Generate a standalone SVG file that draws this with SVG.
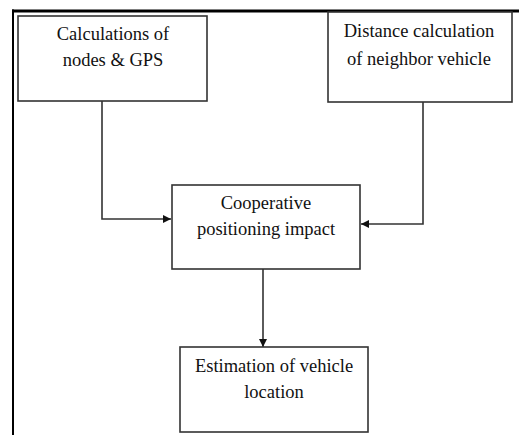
<svg xmlns="http://www.w3.org/2000/svg" width="519" height="435" viewBox="0 0 519 435">
<style>
.box{fill:#fff;stroke:#333;stroke-width:1.6}
.c{fill:none;stroke:#333;stroke-width:1.6}
</style>
<defs>
<marker id="ah" viewBox="0 0 10 10" refX="10" refY="5" markerWidth="9" markerHeight="8" markerUnits="userSpaceOnUse" orient="auto">
<path d="M0,0 L10,5 L0,10 Z" fill="#111"/>
</marker>
</defs>
<rect width="519" height="435" fill="#fff"/>
<g id="frame">
<line x1="12" y1="11" x2="519" y2="11" stroke="#000" stroke-width="3"/>
<line x1="13" y1="9.5" x2="13" y2="435" stroke="#000" stroke-width="2"/>
</g>
<g id="connectors">
<path class="c" d="M102,101 V219 H171" marker-end="url(#ah)"/>
<path class="c" d="M423,102 V224 H361" marker-end="url(#ah)"/>
<path class="c" d="M263,269 V347" marker-end="url(#ah)"/>
</g>
<g font-family="Liberation Serif, Times New Roman, serif" font-size="18.5" fill="#111" text-anchor="middle">
<g id="node1">
<rect class="box" x="18" y="16" width="189" height="85"/>
<text x="113" y="40">Calculations of</text>
<text x="113" y="66">nodes &amp; GPS</text>
</g>
<g id="node2">
<rect class="box" x="328" y="12" width="184" height="90"/>
<text x="419" y="37">Distance calculation</text>
<text x="419" y="65">of neighbor vehicle</text>
</g>
<g id="node3">
<rect class="box" x="172" y="185" width="188" height="84"/>
<text x="266" y="209">Cooperative</text>
<text x="266" y="235">positioning impact</text>
</g>
<g id="node4">
<rect class="box" x="180" y="347" width="188" height="85"/>
<text x="274" y="372">Estimation of vehicle</text>
<text x="274" y="398">location</text>
</g>
</g>
</svg>
